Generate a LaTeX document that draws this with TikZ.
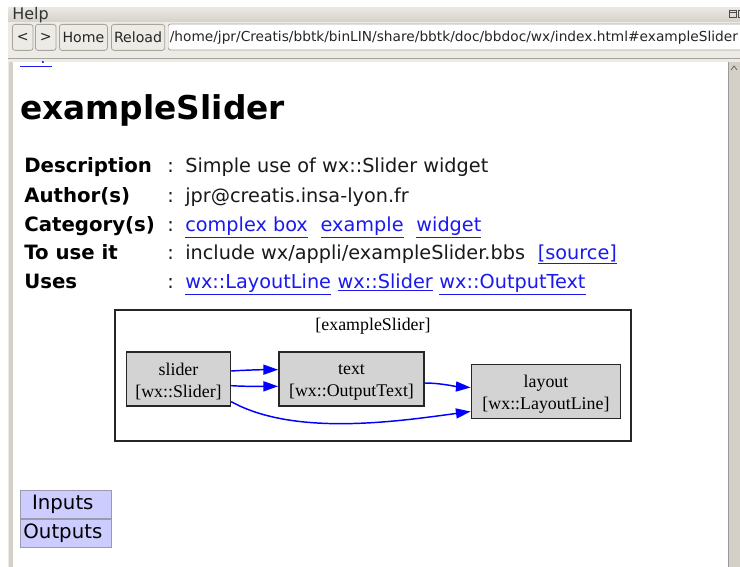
\documentclass[tikz,border=0pt]{standalone}
\usepackage{fontspec}
\setmainfont{DejaVu Sans}
\newfontfamily\dvs{DejaVu Sans}
\newfontfamily\tms{Liberation Serif}
\usetikzlibrary{arrows.meta}
\definecolor{winbg}{HTML}{EDEBE6}
\definecolor{barA}{HTML}{E9E7E3}
\definecolor{barB}{HTML}{D6D2CA}
\definecolor{frame}{HTML}{D4D0C8}
\definecolor{btnbd}{HTML}{A8A49C}
\definecolor{lnk}{HTML}{1A1AEE}
\definecolor{nodefill}{HTML}{D3D3D3}
\definecolor{iofill}{HTML}{CCCCFF}
\definecolor{iobd}{HTML}{9A9AAA}
\tikzset{
  btn/.style={draw=btnbd, fill=winbg, rounded corners=2pt, line width=0.6pt, inner sep=0pt, anchor=north west, font=\dvs\fontsize{10.6}{12}\selectfont, text=black!85},
  lbl/.style={anchor=base west, inner sep=0pt, font=\dvs\bfseries\fontsize{14.8}{16}\selectfont},
  val/.style={anchor=base west, inner sep=0pt, font=\dvs\fontsize{14.45}{16}\selectfont, text=black!90},
  lnktxt/.style={val, text=lnk},
  gnode/.style={draw=black!85, fill=nodefill, line width=1.1pt, minimum height=40.5pt, inner sep=0pt},
  glabel/.style={align=center, inner sep=0pt, yshift=-2.2pt, font=\tms\fontsize{13.4}{16.5}\selectfont},
  garr/.style={draw=blue, line width=1.1pt, -{Triangle[length=11pt,width=7.5pt]}},
  iobox/.style={draw=iobd, fill=iofill, line width=0.6pt, minimum width=68pt, minimum height=21pt, text width=63.4pt, align=left, inner xsep=2.3pt, anchor=north west, inner ysep=0pt, font=\dvs\fontsize{14.8}{16}\selectfont}
}
\newcommand{\ul}[1]{\underline{#1}}
\begin{document}
\begin{tikzpicture}[x=0.75pt,y=-0.75pt]
\useasboundingbox (0,0) rectangle (740,567);
\fill[white] (0,0) rectangle (740,567);
% window background
\fill[winbg] (8,8) rectangle (740,567);
\shade[top color=barA, bottom color=barB] (8,8) rectangle (740,22);
\node[anchor=base west, inner sep=0pt, font=\dvs\fontsize{12}{13}\selectfont, text=black!80] (help) at (12,20) {Help};
% window icons
\draw[black!70, line width=0.6pt] (729,10) rectangle (736,17);
\draw[black!70, line width=0.6pt] (729,12.5) -- (736,12.5);
\draw[black!70, line width=0.6pt] (738,10) rectangle (742,17);
% buttons
\node[btn, minimum width=15.5pt, minimum height=19.5pt] (bk) at (12,24) {<};
\node[btn, minimum width=15.5pt, minimum height=19.5pt] (fw) at (35,24) {>};
\node[btn, minimum width=36pt, minimum height=19.5pt] (home) at (59,24) {Home};
\node[btn, minimum width=40pt, minimum height=19.5pt] (reload) at (111,24) {Reload};
\begin{scope}
\clip (168,20) rectangle (740,52);
\draw[fill=white, draw=btnbd, line width=0.6pt, rounded corners=2pt] (168,24) rectangle (760,50);
\end{scope}
\node[anchor=base west, inner sep=0pt, font=\dvs\fontsize{10.3}{12}\selectfont, text=black!85] (url) at (169.5,42) {/home/jpr/Creatis/bbtk/binLIN/share/bbtk/doc/bbdoc/wx/index.html\#exampleSlider};
\draw[btnbd, line width=0.6pt] (8,58.5) -- (740,58.5);
% content area
\fill[frame] (9,62) rectangle (13,567);
\fill[white] (13,62) rectangle (728,567);
\fill[frame] (728,62) rectangle (740,567);
\draw[black!40, line width=0.5pt] (728,62) -- (728,567);
\draw[black!60, line width=0.6pt] (731,70) -- (734,66) -- (737,70);
% top link (cut)
\begin{scope}
\clip (13,62) rectangle (728,567);
\node[anchor=base west, inner sep=0pt, font=\dvs\fontsize{14.3}{16}\selectfont, text=lnk] (top) at (20,60) {\ul{Top}};
\end{scope}
% title
\node[anchor=base west, inner sep=0pt, font=\dvs\bfseries\fontsize{24.6}{28}\selectfont] (title) at (20,120) {exampleSlider};
% table
\node[lbl] (l1) at (24,173) {Description};
\node[lbl] (l2) at (24,202) {Author(s)};
\node[lbl] (l3) at (24,231) {Category(s)};
\node[lbl] (l4) at (24,259) {To use it};
\node[lbl] (l5) at (24,288) {Uses};
\foreach \yy/\nm in {173/c1,202/c2,231/c3,259/c4,288/c5}{
  \node[val] (\nm) at (167,\yy) {:};
}
\node[val] (v1) at (185,173) {Simple use of wx::Slider widget};
\node[val] (v2) at (185,202) {jpr@creatis.insa-lyon.fr};
\node[lnktxt] (v3a) at (185,231) {\ul{complex box}};
\node[lnktxt] (v3b) at ([xshift=9.2pt]v3a.base east) {\ul{example}};
\node[lnktxt] (v3c) at ([xshift=9.2pt]v3b.base east) {\ul{widget}};
\node[val] (v4) at (185,259) {include wx/appli/exampleSlider.bbs};
\node[lnktxt] (v4b) at ([xshift=9.2pt]v4.base east) {\ul{[source]}};
\node[lnktxt] (v5a) at (185,288) {\ul{wx::LayoutLine}};
\node[lnktxt] (v5b) at ([xshift=4.6pt]v5a.base east) {\ul{wx::Slider}};
\node[lnktxt] (v5c) at ([xshift=4.6pt]v5b.base east) {\ul{wx::OutputText}};
% diagram
\draw[black!85, line width=1.1pt] (115,310) rectangle (631,441);
\node[font=\tms\fontsize{13.4}{16}\selectfont, inner sep=0pt] (cl) at (373,326) {[exampleSlider]};
\node[gnode, minimum width=78pt, label={[glabel]center:{slider\\{[wx::Slider]}}}] (slider) at (178.5,379) {};
\node[gnode, minimum width=109pt, label={[glabel]center:{text\\{[wx::OutputText]}}}] (text) at (351.5,379) {};
\node[gnode, minimum width=112pt, label={[glabel]center:{layout\\{[wx::LayoutLine]}}}] (layout) at (546,391.5) {};
\draw[garr] ([yshift=6pt]slider.east) .. controls ++(15,-1) and ++(-15,0) .. ([yshift=7pt]text.west);
\draw[garr] ([yshift=-5pt]slider.east) .. controls ++(15,1) and ++(-15,0) .. ([yshift=-5.5pt]text.west);
\draw[garr] ([yshift=-3pt]text.east) .. controls ++(15,0) and ++(-15,-1) .. ([yshift=3pt]layout.west);
\draw[garr] ([yshift=-17pt]slider.east) .. controls (295,437) and (400,421) .. ([yshift=-15pt]layout.west);
% inputs / outputs
\node[iobox] (inputs) at (20,490) {\hspace{6.5pt}Inputs};
\node[iobox] (outputs) at (20,518.5) {Outputs};
\end{tikzpicture}
\end{document}
